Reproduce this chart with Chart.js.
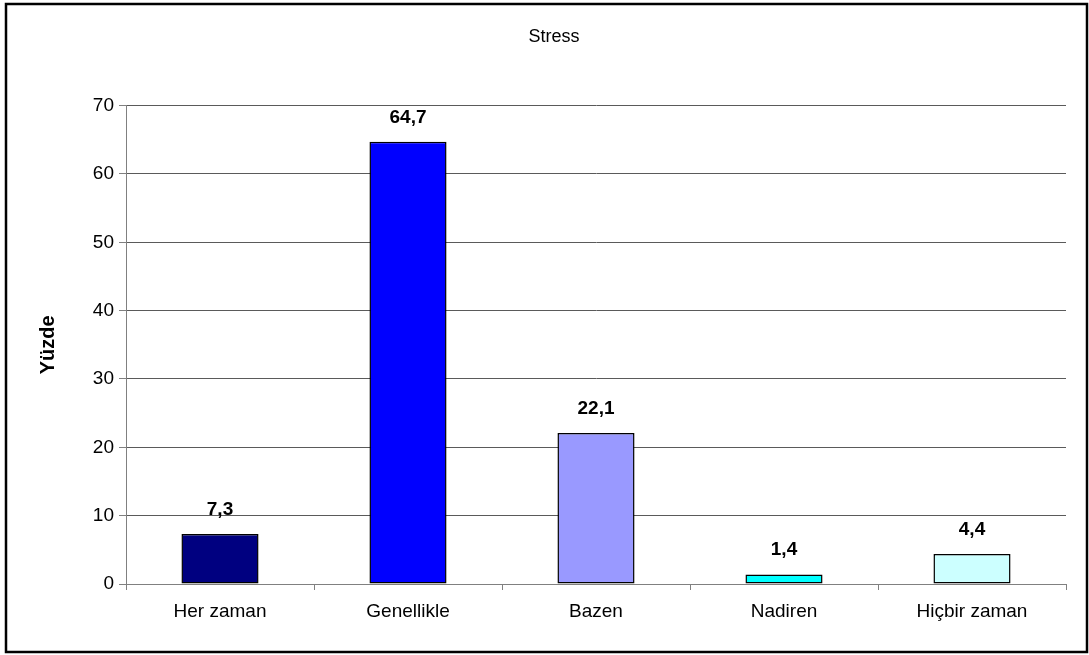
<!DOCTYPE html>
<html>
<head>
<meta charset="utf-8">
<script src="https://cdn.jsdelivr.net/npm/chart.js@4/dist/chart.umd.min.js"></script>
<style>
  html, body { margin: 0; padding: 0; background: #fff; }
  #wrap { width: 1089px; height: 655px; position: relative; }
</style>
</head>
<body>
<div id="wrap"><canvas id="grafico"></canvas></div>
<script>
// Datos
const categorias = ['Her zaman', 'Genellikle', 'Bazen', 'Nadiren', 'Hiçbir zaman'];
const valores = [7.3, 64.7, 22.1, 1.4, 4.4];
const colores = ['#000080', '#0000FF', '#9999FF', '#00FFFF', '#CCFFFF'];
const ejeY = { min: 0, max: 70, paso: 10 };

const FUENTE = '"Liberation Sans", Arial, sans-serif';

// Marco exterior del grafico
const marco = {
    id: 'marco',
    afterDraw(chart) {
        const ctx = chart.ctx;
        ctx.save();
        ctx.strokeStyle = '#000';
        ctx.lineWidth = 2.5;
        ctx.strokeRect(6, 4, 1081, 648);
        ctx.restore();
    }
};

// Etiquetas de valor encima de cada barra
const etiquetas = {
    id: 'etiquetas',
    afterDatasetsDraw(chart) {
        const ctx = chart.ctx;
        const meta = chart.getDatasetMeta(0);
        ctx.save();
        ctx.fillStyle = '#000';
        ctx.font = 'bold 19px ' + FUENTE;
        ctx.textAlign = 'center';
        ctx.textBaseline = 'alphabetic';
        meta.data.forEach((bar, i) => {
            const texto = String(valores[i]).replace('.', ',');
            ctx.fillText(texto, bar.x, bar.y - 19);
        });
        ctx.restore();
    }
};

const ctx = document.getElementById('grafico').getContext('2d');

new Chart(ctx, {
    type: 'bar',
    data: {
        labels: categorias,
        datasets: [{
            label: 'Yüzde',
            data: valores,
            backgroundColor: colores,
            borderColor: '#000',
            borderWidth: 1.5,
            borderSkipped: false,
            categoryPercentage: 1,
            barPercentage: 0.41
        }]
    },
    options: {
        responsive: true,
        maintainAspectRatio: false,
        animation: false,
        // padding izquierdo para centrar el titulo como en el original
        layout: { padding: { left: 42, right: 23, top: 0, bottom: 0 } },
        plugins: {
            legend: { display: false },
            tooltip: { enabled: false },
            title: {
                display: true,
                text: 'Stress',
                color: '#000',
                font: { family: FUENTE, size: 18, weight: 'normal' },
                padding: { top: 26, bottom: 58 }
            }
        },
        scales: {
            x: {
                afterFit: s => { s.height = 71; },
                grid: {
                    display: true,
                    drawOnChartArea: false,
                    drawTicks: true,
                    tickLength: 6,
                    color: '#808080',
                    offset: true
                },
                border: { color: '#808080', width: 1 },
                ticks: {
                    color: '#000',
                    padding: 10,
                    font: { family: FUENTE, size: 19 }
                }
            },
            y: {
                min: ejeY.min,
                max: ejeY.max,
                afterFit: s => { s.width = 84; },
                grid: {
                    color: '#5a5a5a',
                    tickColor: '#808080',
                    tickLength: 7
                },
                border: { color: '#808080', width: 1 },
                ticks: {
                    stepSize: ejeY.paso,
                    color: '#000',
                    padding: 5,
                    font: { family: FUENTE, size: 19 }
                },
                title: {
                    display: true,
                    text: 'Yüzde',
                    color: '#000',
                    font: { family: FUENTE, size: 20, weight: 'bold' },
                    padding: { top: -6, bottom: 0 }
                }
            }
        }
    },
    plugins: [marco, etiquetas]
});
</script>
</body>
</html>
